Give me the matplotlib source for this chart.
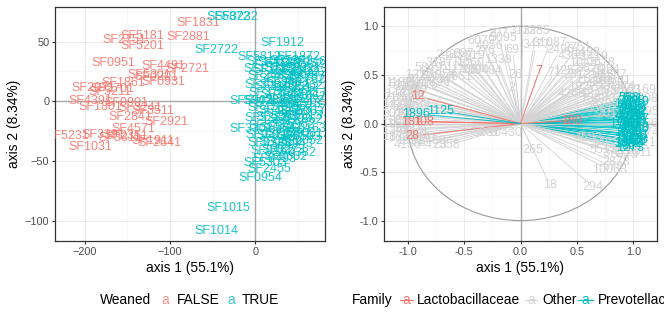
import matplotlib.pyplot as plt
from matplotlib.lines import Line2D
from matplotlib.patches import Circle

plt.rcParams['font.family'] = ['Liberation Sans', 'DejaVu Sans']

red = '#F8766D'
cyan = '#00BFC4'
grey = '#D3D3D3'

# ---- left panel: samples ----
false_lab = ["SF1831", "SF5181", "SF2751", "SF2881", "SF5201", "SF0951", "SF4491", "SF2721",
             "SF5301", "SF0201", "SF1861", "SF0931", "SF2071", "SF5211", "SF2701", "SF4391",
             "SF0901", "SF1801", "SF3241", "SF3511", "SF2841", "SF2921", "SF4571", "SF5231",
             "SF3391", "SF2351", "SF3311", "SF1031", "SF1911", "SF2641"]
false_x = [-67, -133, -153, -79, -132, -167, -108, -80, -124, -116, -155, -108, -190, -171, -168,
           -194, -151, -182, -135, -120, -147, -104, -143, -221, -178, -151, -159, -194, -120, -112]
false_y = [66, 55, 51, 54, 46, 32, 30, 27, 22, 20, 15, 16, 11, 8, 10, 0, -1, -5, -6, -8, -13,
           -17, -23, -29, -28, -29, -31, -38, -33, -35]

true_lab = ["SF5872", "SF3232", "SF2722", "SF1912", "SF5812", "SF1872", "SF5902", "SF3302",
            "SF5303", "SF2455", "SF0954", "SF1015", "SF1014",
            "SF1002", "SF1123", "SF1242", "SF1352", "SF1463", "SF1572", "SF1682", "SF1793",
            "SF2102", "SF2213", "SF2322", "SF2433", "SF2542", "SF2653", "SF2762", "SF2873",
            "SF3082", "SF3192", "SF3403", "SF3512", "SF3623", "SF3732", "SF3843", "SF3952",
            "SF4062", "SF4173", "SF4282", "SF4393", "SF4402", "SF4513", "SF4622", "SF4733",
            "SF4842", "SF4952", "SF5063", "SF5172", "SF5282", "SF5393", "SF5402", "SF5513",
            "SF5622", "SF5733", "SF5842", "SF5952", "SF0163", "SF0272", "SF0383", "SF0492",
            "SF0503", "SF0612", "SF0723", "SF0832", "SF0943", "SF0052", "SF0162", "SF0273",
            "SF0382", "SF0493", "SF0602"]
true_x = [-31, -22, -46, 32, 5, 51, -5, -5, 12, 16, 6, -32, -46,
          15, 28, 42, 55, 66,
          12, 22, 35, 48, 60, 67,
          16, 30, 44, 57, 65,
          13, 25, 38, 50, 62,
          18, 32, 45, 58, 67,
          11, 24, 37, 52, 64,
          16, 29, 42, 55, 66,
          13, 26, 40, 53, 63,
          18, 31, 45, 58,
          14, 27, 40, 52, 62,
          17, 30, 43, 54,
          20, 33, 46,
          22, 35]
true_y = [71, 71, 43, 49, 37, 37, 0, -23, -52, -57, -64, -89, -109,
          33, 32, 34, 31, 33,
          27, 26, 28, 25, 27, 24,
          21, 19, 22, 18, 20,
          14, 12, 15, 11, 13,
          7, 5, 8, 4, 6,
          0, -1, 1, -2, 0,
          -6, -8, -5, -9, -7,
          -14, -13, -15, -12, -16,
          -21, -22, -20, -23,
          -28, -29, -27, -30, -27,
          -35, -34, -36, -33,
          -42, -41, -43,
          -48, -47]

# ---- right panel: taxa loadings (label positions) ----
grey_lab = ["5139", "5", "1441", "6211", "880", "1730", "2254", "915", "3017", "742", "4410",
            "1163", "2085", "1348", "592", "3806", "1607", "1991", "56", "4", "23", "358",
            "4120", "2712", "1954", "5849", "6119", "1705", "2090", "10484", "3321", "4615",
            "2433", "337", "6079", "276", "4056", "207", "69", "3113", "3285", "2496",
            "31087", "3477", "26", "2", "1493", "1419", "2678", "3054", "1587", "2541",
            "4474", "1257", "71", "2312", "1108", "4427", "2930", "1846", "3390",
            "2169", "4708", "1395", "3066", "1774", "5021", "2611", "3873", "5513", "2878",
            "678", "10063", "294", "18", "265", "5231", "10430",
            "1182", "3904", "2267", "715", "4830", "1529", "3612", "2044", "961", "5402",
            "1873", "2735", "4196", "630", "3458", "1216", "2899", "547", "4061", "1660",
            "3187", "2422", "819", "5095", "1338",
            "2751", "4369", "1045", "3620", "2184", "587", "4912", "1796", "3305", "2563",
            "1927", "4248", "706", "3561", "2019",
            "1482", "3750", "2206", "4583"]
grey_x = [-1.05, -0.98, -1.08, -1.00, -0.92, -1.10, -1.02, -0.95, -1.10, -1.05, -0.98, -1.12,
          -1.05, -1.10, -1.02, -0.95, -1.05, -0.98, -0.90, -0.82, -0.72, -0.63, -0.88, -0.78,
          -0.70, -0.82, -0.60, -0.50, -0.40, -0.32, -0.93, -0.85,
          -0.63, -0.50, -0.35, -0.32, -0.27, -0.20, -0.07, 0.02, 0.14, 0.35, 0.26, 0.14,
          -0.05, -0.08, 0.58, 0.65, 0.72, 0.76, 0.82, 0.86, 0.90, 0.41, 0.30, 0.50, 0.60,
          0.70, 0.80, 0.65, 0.75,
          1.08, 1.10, 1.10, 1.10, 1.10, 1.08, 1.05, 0.92, 0.73, 0.85, 0.82, 0.79, 0.64,
          0.26, 0.11, -0.30, -0.14,
          -1.08, -1.00, -0.95, -1.12, -1.06, -0.93, -1.00, -0.92, -1.08, -0.98, -1.10, -0.92,
          -1.00, -0.85, -0.78, -0.90, -0.75, -0.65, -0.55, -0.45, -0.72, -0.55, -0.40, -0.15,
          -0.20,
          0.50, 0.45, 0.55, 0.62, 0.68, 0.74, 0.80, 0.86, 0.90, 0.95, 0.55, 0.45, 0.62, 0.70,
          0.80,
          0.75, 0.85, 0.95, 0.60]
grey_y = [0.40, 0.45, 0.30, 0.32, 0.35, 0.20, 0.22, 0.25, 0.10, 0.12, 0.15, 0.00, 0.03,
          -0.08, -0.06, -0.05, -0.15, -0.18, -0.20, -0.22, -0.22, -0.22, 0.45, 0.48, 0.50,
          0.57, 0.58, 0.55, 0.55, 0.54, 0.42, 0.40,
          0.71, 0.72, 0.85, 0.75, 0.80, 0.92, 0.76, 0.95, 0.95, 0.76, 0.83, 0.81,
          0.50, 0.37, 0.73, 0.68, 0.62, 0.55, 0.50, 0.44, 0.38, 0.54, 0.52, 0.50, 0.45,
          0.40, 0.33, 0.30, 0.20,
          0.35, 0.25, 0.12, 0.00, -0.10, -0.20, -0.30, -0.32, -0.27, -0.40, -0.45, -0.48,
          -0.65, -0.63, -0.27, -0.10, -0.10,
          0.42, 0.38, 0.30, 0.26, 0.18, 0.20, 0.08, 0.05, -0.02, -0.10, -0.14, -0.12,
          -0.22, -0.16, -0.18, 0.50, 0.42, 0.45, 0.48, 0.62, 0.62, 0.68, 0.70, 0.88,
          0.65,
          0.78, 0.70, 0.62, 0.56, 0.50, 0.46, 0.42, 0.30, 0.25, 0.35, 0.38, 0.30, 0.25, 0.15,
          0.10,
          -0.20, -0.30, -0.28, -0.15]

red_lab = ["12", "7", "180", "181", "108", "28"]
red_x = [-0.905, 0.165, 0.45, -0.97, -0.86, -0.96]
red_y = [0.28, 0.54, 0.03, 0.02, 0.02, -0.13]

cyan_lab = ["1896", "1125", "1", "558", "581", "1204", "883", "2719", "310", "1562", "942",
            "4018", "675", "2287", "1390", "502", "3145", "817", "1733", "2960", "1048",
            "639", "2571", "1316", "4403", "798", "1867", "364", "164",
            "2093", "471", "3328", "1655", "720", "2846", "1139", "3907", "588", "2412",
            "1750", "966", "3581", "1273"]
cyan_x = [-0.93, -0.71, 0.82, 0.96, 1.00, 0.95, 1.01, 1.02, 0.97, 0.99, 1.02, 0.96, 1.01,
          1.02, 0.95, 0.99, 1.02, 0.96, 1.01, 1.02, 0.95, 0.99, 1.02, 0.96, 1.01, 1.02,
          0.95, 0.99, 0.92,
          0.98, 0.96, 1.00, 0.97, 1.01, 0.96, 0.99, 1.00, 0.97, 0.98, 1.00, 0.96, 0.99, 0.97]
cyan_y = [0.10, 0.13, 0.00, 0.26, 0.25, 0.20, 0.19, 0.22, 0.14, 0.13, 0.12, 0.08, 0.07,
          0.05, 0.02, 0.01, 0.00, -0.04, -0.05, -0.06, -0.10, -0.11, -0.12, -0.16, -0.17,
          -0.18, -0.21, -0.23, -0.20,
          0.23, 0.17, 0.16, 0.10, 0.10, 0.05, 0.04, -0.02, -0.01, -0.08, -0.14, -0.13,
          -0.19, -0.25]


def style_panel(ax, xmaj, xmin, ymaj, ymin, xlim, ylim):
    ax.set_xlim(xlim)
    ax.set_ylim(ylim)
    ax.set_xticks(xmaj)
    ax.set_xticks(xmin, minor=True)
    ax.set_yticks(ymaj)
    ax.set_yticks(ymin, minor=True)
    ax.grid(which='major', color='#ebebeb', lw=0.7)
    ax.grid(which='minor', color='#f2f2f2', lw=0.4)
    ax.set_axisbelow(True)
    ax.tick_params(which='major', length=2.5, color='#333333', labelcolor='#4d4d4d',
                   labelsize=7.8, pad=1.5)
    ax.tick_params(which='minor', length=0)
    for s in ax.spines.values():
        s.set_color('#333333')
        s.set_linewidth(0.9)
    ax.axhline(0, color='#a8a8a8', lw=1.0, zorder=1)
    ax.axvline(0, color='#a8a8a8', lw=1.0, zorder=1)
    ax.set_xlabel('axis 1 (55.1%)', fontsize=9.9, labelpad=3)
    ax.set_ylabel('axis 2 (8.34%)', fontsize=9.9, labelpad=3)


fig = plt.figure(figsize=(6.64, 3.32), dpi=100)
W, H = 664, 332
ax1 = fig.add_axes([55 / W, 1 - 241 / H, 270 / W, 234 / H])
ax2 = fig.add_axes([384 / W, 1 - 241 / H, 273 / W, 234 / H])

style_panel(ax1, [-200, -100, 0], [-150, -50, 50], [-100, -50, 0, 50], [-75, -25, 25, 75],
            (-235, 82), (-117, 79))
for t, x, y in zip(false_lab, false_x, false_y):
    ax1.text(x, y, t, color=red, fontsize=9, ha='center', va='center', clip_on=True, alpha=0.9)
for t, x, y in zip(true_lab, true_x, true_y):
    ax1.text(x, y, t, color=cyan, fontsize=9, ha='center', va='center', clip_on=True, alpha=0.9)

style_panel(ax2, [-1, -0.5, 0, 0.5, 1], [-0.75, -0.25, 0.25, 0.75],
            [-1, -0.5, 0, 0.5, 1], [-0.75, -0.25, 0.25, 0.75], (-1.21, 1.21), (-1.21, 1.2))
ax2.xaxis.set_major_formatter(plt.FormatStrFormatter('%.1f'))
ax2.yaxis.set_major_formatter(plt.FormatStrFormatter('%.1f'))
ax2.add_patch(Circle((0, 0), 1, fill=False, color='#9a9a9a', lw=0.8, zorder=2))

# segments: right-hand cyan ones sit under the grey fan, the rest on top
for x, y in zip(cyan_x, cyan_y):
    ax2.plot([0, x * 0.92], [0, y * 0.92], color=cyan, lw=0.6,
             zorder=2.6 if x > 0 else 3.5)
for x, y in zip(grey_x, grey_y):
    ax2.plot([0, x * 0.92], [0, y * 0.92], color=grey, lw=0.6, zorder=3)
for x, y in zip(red_x, red_y):
    ax2.plot([0, x * 0.92], [0, y * 0.92], color=red, lw=0.7, zorder=3.4)

for labs, xs, ys, c in [(grey_lab, grey_x, grey_y, grey),
                        (red_lab, red_x, red_y, red),
                        (cyan_lab, cyan_x, cyan_y, cyan)]:
    for t, x, y in zip(labs, xs, ys):
        ax2.text(x, y, t, color=c, fontsize=9, ha='center', va='center', clip_on=True, zorder=4)

# ---- legends ----
ly = 1 - 300 / H
fig.text(100 / W, ly, 'Weaned', fontsize=9.9, va='center')
fig.text(165 / W, ly, 'a', color=red, fontsize=9.9, va='center', ha='center', alpha=0.8)
fig.text(177 / W, ly, 'FALSE', fontsize=9.9, va='center')
fig.text(231 / W, ly, 'a', color=cyan, fontsize=9.9, va='center', ha='center', alpha=0.8)
fig.text(242 / W, ly, 'TRUE', fontsize=9.9, va='center')

fig.text(352 / W, ly, 'Family', fontsize=9.9, va='center')
for x0, x1, c in [(400, 413, red), (525, 537, grey), (578, 593, cyan)]:
    fig.add_artist(Line2D([x0 / W, x1 / W], [ly, ly], color=c, lw=0.8))
    fig.text((x0 + x1) / 2 / W, ly, 'a', color=c, fontsize=9.9, va='center', ha='center')
fig.text(417 / W, ly, 'Lactobacillaceae', fontsize=9.9, va='center')
fig.text(542 / W, ly, 'Other', fontsize=9.9, va='center')
fig.text(598 / W, ly, 'Prevotellaceae', fontsize=9.9, va='center')

fig.savefig('out.png', dpi=100)
